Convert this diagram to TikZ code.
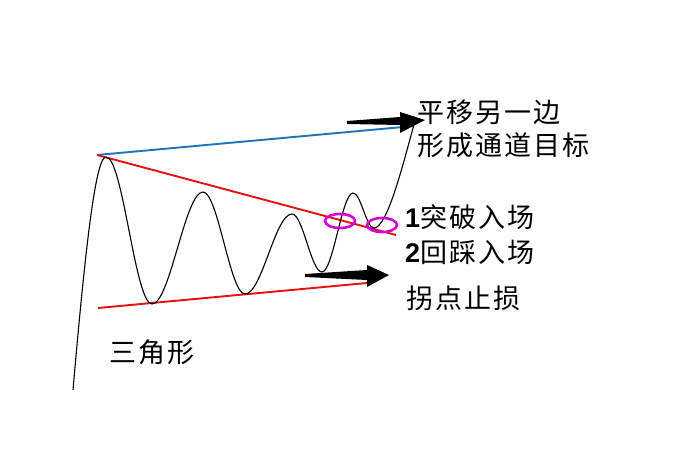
\documentclass[tikz,border=0pt]{standalone}
\usepackage{fontspec}
\newfontfamily\cjk{Noto Sans CJK SC}[LetterSpace=8]
\newfontfamily\numfont{Liberation Sans}
\usetikzlibrary{shapes.geometric}
\definecolor{chanblue}{RGB}{30,118,185}
\definecolor{trired}{RGB}{232,16,16}
\definecolor{ringpink}{RGB}{214,0,214}

\begin{document}
\begin{tikzpicture}[x=1pt,y=-1pt,
  label node/.style={font=\cjk\fontsize{27}{31}\selectfont,inner sep=0pt,anchor=west},
  edge line/.style={line width=1.9pt},
  price/.style={line width=1.1pt,black},
  ring/.style={draw=ringpink,line width=2.6pt,ellipse,minimum width=30pt,minimum height=14pt,inner sep=0pt}]

  \useasboundingbox[fill=white] (0,0) rectangle (680,462);

  % triangle edges and channel line
  \coordinate (apex) at (97,155);
  \coordinate (upper end) at (396,235);
  \coordinate (lower start) at (98,308);
  \coordinate (lower end) at (367,283);
  \coordinate (channel end) at (403,127);

  \draw[edge line,chanblue] (apex) -- (channel end);
  \draw[edge line,trired] (apex) -- (upper end);
  \draw[edge line,trired] (lower start) -- (lower end);

  % price curve
  \coordinate (s0) at (73,390);
  \coordinate (p1) at (106,157);
  \coordinate (t1) at (152,304);
  \coordinate (p2) at (203,192);
  \coordinate (t2) at (245,294);
  \coordinate (p3) at (292,214);
  \coordinate (t3) at (322,272);
  \coordinate (p4) at (353,193);
  \coordinate (t4) at (374,228);
  \coordinate (e) at (415,121);

  \draw[price] (s0) .. controls (86,240) and (96,157) .. (p1)
    .. controls +(17,0) and +(-17,0) .. (t1)
    .. controls +(18,0) and +(-18,0) .. (p2)
    .. controls +(15,0) and +(-15,0) .. (t2)
    .. controls +(17,0) and +(-17,0) .. (p3)
    .. controls +(11,0) and +(-11,0) .. (t3)
    .. controls +(11,0) and +(-11,0) .. (p4)
    .. controls +(8,0) and +(-8,0) .. (t4)
    .. controls +(14,0) and +(-10,35) .. (e);

  % entry rings
  \node[ring] (break ring) at (340,221) {};
  \node[ring] (retest ring) at (382,225) {};

  % fat arrows
  \fill (347,121) -- (400,117) -- (400,112) -- (425,120) -- (400,133) -- (400,125) -- (347,124) -- cycle;
  \fill (305,274) -- (367,270) -- (367,265) -- (389,275) -- (367,287) -- (367,280) -- (305,277) -- cycle;

  % labels
  \node[label node] (shift) at (417,112) {平移另一边};
  \node[label node] (target) at (417,145) {形成通道目标};
  \node[label node] (breakout) at (405,217) {{\numfont\bfseries 1}突破入场};
  \node[label node] (retest) at (405,252) {{\numfont\bfseries 2}回踩入场};
  \node[label node] (stop) at (406,298) {拐点止损};
  \node[label node] (triangle) at (109,352) {三角形};
\end{tikzpicture}
\end{document}
